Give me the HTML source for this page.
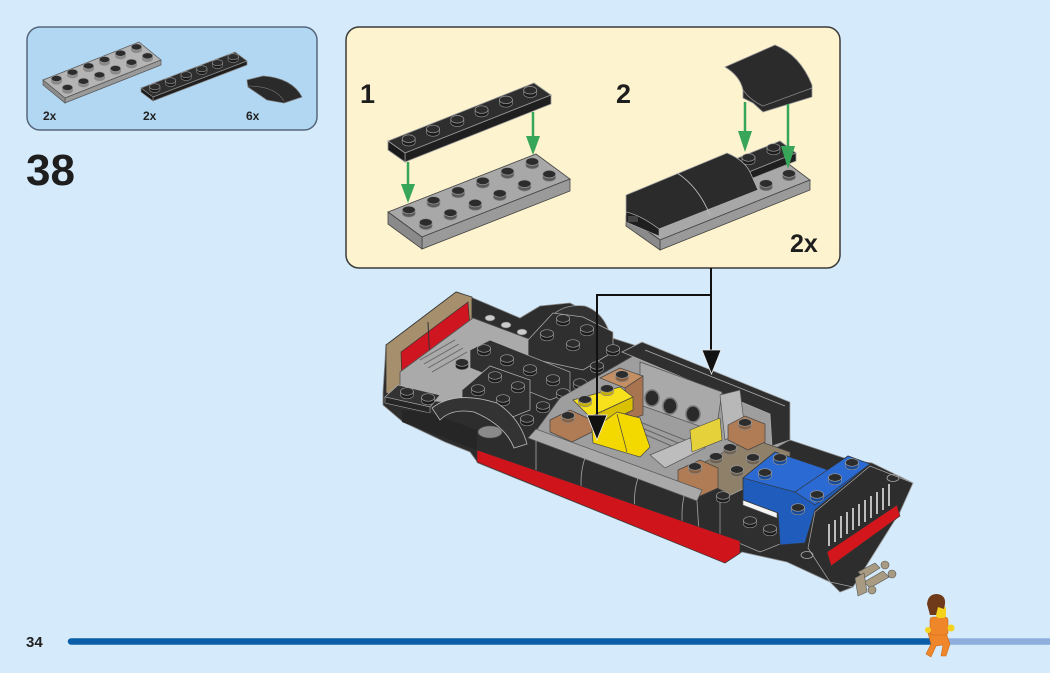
<!DOCTYPE html>
<html><head><meta charset="utf-8">
<style>
html,body{margin:0;padding:0;background:#d5ebfb;}
body{width:1050px;height:673px;overflow:hidden;position:relative;font-family:"Liberation Sans",sans-serif;}
svg{position:absolute;left:0;top:0;}
</style></head><body>
<svg width="1050" height="673" viewBox="0 0 1050 673" xmlns="http://www.w3.org/2000/svg">
<defs>
<g id="s"><path d="M-6.5,-3.5V0A6.5,3.8 0 0 0 6.5,0V-3.5Z" fill="currentColor" stroke="#8a8a8a" stroke-width=".7"/><ellipse cy="-3.5" rx="6.5" ry="3.8" fill="#2c2c2c" stroke="#9a9a9a" stroke-width=".7"/></g>
</defs>

<!-- Parts box -->
<rect x="27" y="27" width="290" height="103" rx="13" fill="#b2d7f2" stroke="#56677a" stroke-width="1.5"/>
<!-- gray 2x6 -->
<polygon points="43,80 139,42 161,60 65,98" fill="#b4b4b4" stroke="#555" stroke-width=".7"/>
<polygon points="65,98 161,60 161,65 65,103" fill="#9a9a9a" stroke="#555" stroke-width=".7"/>
<polygon points="43,80 65,98 65,103 43,85" fill="#8c8c8c" stroke="#555" stroke-width=".7"/>
<g color="#8a8a8a">
<use href="#s" transform="translate(56.5,81.3) scale(.8)"/><use href="#s" transform="translate(72.5,75) scale(.8)"/><use href="#s" transform="translate(88.5,68.7) scale(.8)"/><use href="#s" transform="translate(104.5,62.3) scale(.8)"/><use href="#s" transform="translate(120.5,56) scale(.8)"/><use href="#s" transform="translate(136.5,49.7) scale(.8)"/>
<use href="#s" transform="translate(67.5,90.3) scale(.8)"/><use href="#s" transform="translate(83.5,84) scale(.8)"/><use href="#s" transform="translate(99.5,77.7) scale(.8)"/><use href="#s" transform="translate(115.5,71.3) scale(.8)"/><use href="#s" transform="translate(131.5,65) scale(.8)"/><use href="#s" transform="translate(147.5,58.7) scale(.8)"/>
</g>
<!-- black 1x6 -->
<polygon points="141,88 235,52 247,61 153,97" fill="#2e2e2e" stroke="#888" stroke-width=".7"/>
<polygon points="153,97 247,61 247,65 153,101" fill="#1f1f1f" stroke="#888" stroke-width=".7"/>
<polygon points="141,88 153,97 153,101 141,92" fill="#1a1a1a" stroke="#888" stroke-width=".7"/>
<g color="#1c1c1c">
<use href="#s" transform="translate(154.8,89.5) scale(.8)"/><use href="#s" transform="translate(170.5,83.5) scale(.8)"/><use href="#s" transform="translate(186.2,77.5) scale(.8)"/><use href="#s" transform="translate(201.8,71.5) scale(.8)"/><use href="#s" transform="translate(217.5,65.5) scale(.8)"/><use href="#s" transform="translate(233.2,59.5) scale(.8)"/>
</g>
<!-- curved slope small -->
<path d="M247,80 L263,76 Q292,78 302,97 L284,103 L267,100 L248,87 Z" fill="#2a2a2a" stroke="#777" stroke-width=".7"/>
<path d="M248,86 Q275,86 284,101" fill="none" stroke="#777" stroke-width=".6"/>
<g font-family="'Liberation Sans',sans-serif" font-weight="bold" font-size="12" fill="#222">
<text x="43" y="120">2x</text><text x="143" y="120">2x</text><text x="246" y="120">6x</text>
</g>

<text x="26" y="185" font-family="'Liberation Sans',sans-serif" font-weight="bold" font-size="44" fill="#1e1e1e">38</text>

<!-- Step box -->
<rect x="346" y="27" width="494" height="241" rx="13" fill="#fdf3cf" stroke="#3a3a3a" stroke-width="1.5"/>
<g font-family="'Liberation Sans',sans-serif" font-weight="bold" fill="#1e1e1e">
<text x="360" y="103" font-size="27">1</text>
<text x="616" y="103" font-size="27">2</text>
<text x="790" y="252" font-size="25">2x</text>
</g>

<!-- Step1: gray 2x6 -->
<polygon points="388,212 536,154 570,179 422,237" fill="#a8a8a8" stroke="#444" stroke-width=".8"/>
<polygon points="422,237 570,179 570,191 422,249" fill="#9a9a9a" stroke="#444" stroke-width=".8"/>
<polygon points="388,212 422,237 422,249 388,224" fill="#8a8a8a" stroke="#444" stroke-width=".8"/>
<g color="#5a5a5a">
<use href="#s" x="408.8" y="213.4"/><use href="#s" x="433.5" y="203.8"/><use href="#s" x="458.2" y="194.1"/><use href="#s" x="482.8" y="184.4"/><use href="#s" x="507.5" y="174.8"/><use href="#s" x="532.2" y="165.1"/>
<use href="#s" x="425.8" y="225.9"/><use href="#s" x="450.5" y="216.3"/><use href="#s" x="475.2" y="206.6"/><use href="#s" x="499.8" y="196.9"/><use href="#s" x="524.5" y="187.3"/><use href="#s" x="549.2" y="177.6"/>
</g>
<!-- Step1: black 1x6 -->
<polygon points="388,141 534,83 551,95 405,153" fill="#2e2e2e" stroke="#999" stroke-width=".8"/>
<polygon points="405,153 551,95 551,104 405,162" fill="#1f1f1f" stroke="#999" stroke-width=".8"/>
<polygon points="388,141 405,153 405,162 388,150" fill="#1a1a1a" stroke="#999" stroke-width=".8"/>
<g color="#1c1c1c">
<use href="#s" x="408.7" y="142.2"/><use href="#s" x="433" y="132.5"/><use href="#s" x="457.3" y="122.8"/><use href="#s" x="481.6" y="113.1"/><use href="#s" x="505.9" y="103.4"/><use href="#s" x="530.2" y="93.7"/>
</g>
<!-- green arrows step1 -->
<g stroke="#37a659" stroke-width="2.5" fill="#37a659">
<line x1="408" y1="162" x2="408" y2="186"/><polygon points="401,184 415,184 408,203" stroke="none"/>
<line x1="533" y1="112" x2="533" y2="138"/><polygon points="526,136 540,136 533,155" stroke="none"/>
</g>

<!-- Step2 assembly -->
<polygon points="628,216 778,156 810,180 660,240" fill="#a8a8a8" stroke="#444" stroke-width=".8"/>
<polygon points="660,240 810,180 810,190 660,250" fill="#9a9a9a" stroke="#444" stroke-width=".8"/>
<polygon points="626,216 660,240 660,250 626,226" fill="#8a8a8a" stroke="#444" stroke-width=".8"/>
<polygon points="728,162 780,141 796,153 744,174" fill="#2e2e2e" stroke="#999" stroke-width=".8"/>
<polygon points="744,174 796,153 796,161 748,180" fill="#1f1f1f" stroke="#999" stroke-width=".8"/>
<g color="#1c1c1c"><use href="#s" x="748.5" y="161"/><use href="#s" x="773.5" y="151"/></g>
<g color="#5a5a5a"><use href="#s" x="766" y="187"/><use href="#s" x="789" y="177"/></g>
<path d="M626,195 L727,153 Q744,160 750,172 L758,190 L659,229 Q640,215 626,212 Z" fill="#2b2b2b" stroke="#aaa" stroke-width=".8"/>
<path d="M626,212 Q640,215 659,229 L659,236 L626,222 Z" fill="#1e1e1e" stroke="#aaa" stroke-width=".6"/>
<path d="M677,173 Q698,186 710,215" fill="none" stroke="#bbb" stroke-width=".9"/>
<rect x="628" y="216" width="10" height="6" fill="#444"/>
<!-- floating slope -->
<path d="M725,67 L775,45 Q800,55 812,85 L812,97 L763,112 L753,103 L743,98 L743,90 Q740,76 725,67 Z" fill="#2b2b2b" stroke="#999" stroke-width=".8"/>
<path d="M743,90 Q750,100 763,106 L812,88" fill="none" stroke="#888" stroke-width=".7"/>
<g stroke="#37a659" stroke-width="2.5" fill="#37a659">
<line x1="745" y1="102" x2="745" y2="133"/><polygon points="738,131 752,131 745,152" stroke="none"/>
<line x1="788" y1="104" x2="788" y2="148"/><polygon points="781,146 795,146 788,169" stroke="none"/>
</g>

<!-- CAR -->
<polygon points="383,392 386,345 457,292 473,298 520,318 540,306 570,303 600,318 612,338 640,347 788,405 790,440 850,460 872,463 913,483 900,512 853,587 840,592 830,582 787,562 742,552 725,563 478,463 470,452 445,442 403,422 383,405" fill="#2d2d2d" stroke="#888" stroke-width=".8"/>
<path d="M540,345 Q546,302 585,306 Q608,314 612,345 Z" fill="#333" stroke="#999" stroke-width=".8"/>
<polygon points="386,345 456,292 472,297 472,330 400,390 400,397 386,393" fill="#a58f6c" stroke="#333" stroke-width=".8"/>
<polygon points="401,352 468,302 470,328 402,385" fill="#cf1520" stroke="#333" stroke-width=".7"/>
<line x1="428" y1="322" x2="430" y2="363" stroke="#333" stroke-width="1"/>
<polygon points="400,372 473,318 545,345 545,378 470,405 400,398" fill="#aaaaaa" stroke="#555" stroke-width=".8"/>
<g stroke="#666" stroke-width="1"><line x1="420" y1="360" x2="455" y2="340"/><line x1="424" y1="364" x2="459" y2="344"/><line x1="428" y1="368" x2="463" y2="348"/><line x1="432" y1="372" x2="467" y2="352"/></g>
<g fill="#ccc" stroke="#666" stroke-width=".6"><ellipse cx="490" cy="318" rx="5" ry="3"/><ellipse cx="506" cy="325" rx="5" ry="3"/><ellipse cx="522" cy="332" rx="5" ry="3"/></g>
<polygon points="528,340 553,313 583,317 613,332 613,352 583,370 528,358" fill="#2f2f2f" stroke="#aaa" stroke-width=".8"/>
<polygon points="470,350 490,340 570,372 570,392 550,400 470,368" fill="#303030" stroke="#aaa" stroke-width=".7"/>
<polygon points="462,390 490,366 530,380 530,410 505,420 462,405" fill="#2f2f2f" stroke="#aaa" stroke-width=".8"/>
<g color="#1c1c1c">
<use href="#s" x="462" y="366"/><use href="#s" x="484" y="352"/><use href="#s" x="507" y="362"/><use href="#s" x="530" y="372"/><use href="#s" x="553" y="382"/>
<use href="#s" x="563" y="322"/><use href="#s" x="587" y="332"/><use href="#s" x="547" y="337"/><use href="#s" x="573" y="347"/><use href="#s" x="613" y="352"/><use href="#s" x="597" y="369"/>
<use href="#s" x="495" y="379"/><use href="#s" x="518" y="389"/><use href="#s" x="478" y="392"/><use href="#s" x="503" y="402"/>
<use href="#s" x="580" y="386"/><use href="#s" x="563" y="396"/><use href="#s" x="543" y="409"/><use href="#s" x="527" y="422"/>
</g>
<polygon points="385,397 398,385 440,395 430,407" fill="#333" stroke="#aaa" stroke-width=".8"/>
<polygon points="385,397 430,407 430,413 385,403" fill="#262626" stroke="#aaa" stroke-width=".6"/>
<g color="#1c1c1c"><use href="#s" x="407" y="395"/><use href="#s" x="428" y="401"/></g>
<polygon points="402,410 430,413 477,430 477,450 402,422" fill="#262626"/>
<path d="M432,408 Q455,390 497,403 Q520,418 527,444 L514,448 Q505,425 474,412 Q452,408 440,420 Z" fill="#333" stroke="#bbb" stroke-width=".8"/>
<ellipse cx="490" cy="432" rx="12" ry="6" fill="#8a8a8a" stroke="#555" stroke-width=".6"/>
<polygon points="560,398 640,352 788,408 790,440 700,492 535,432" fill="#9e9e9e" stroke="#555" stroke-width=".7"/>
<polygon points="622,352 642,342 790,402 790,440 772,446 770,414" fill="#2f2f2f" stroke="#aaa" stroke-width=".8"/>
<line x1="645" y1="350" x2="785" y2="406" stroke="#aaa" stroke-width=".8"/>
<polygon points="640,362 722,392 716,432 640,405" fill="#a9a9a9" stroke="#555" stroke-width=".8"/>
<g fill="#2a2a2a" stroke="#777" stroke-width="1.5"><ellipse cx="652" cy="398" rx="7" ry="8"/><ellipse cx="670" cy="406" rx="7" ry="8"/><ellipse cx="693" cy="414" rx="7" ry="8"/></g>
<polygon points="720,395 740,390 745,430 725,440" fill="#b8b8b8" stroke="#555" stroke-width=".7"/>
<g stroke="#666" stroke-width="1"><line x1="640" y1="422" x2="690" y2="442"/><line x1="642" y1="428" x2="690" y2="448"/><line x1="644" y1="434" x2="690" y2="454"/></g>
<polygon points="650,455 690,438 705,448 665,468" fill="#bdbdbd" stroke="#555" stroke-width=".7"/>
<polygon points="690,430 720,418 722,440 692,452" fill="#e5d23a" stroke="#444" stroke-width=".6"/>
<polygon points="600,378 620,368 643,376 625,388" fill="#c48f62" stroke="#444" stroke-width=".7"/>
<polygon points="625,388 643,376 643,415 628,420" fill="#a87450" stroke="#444" stroke-width=".7"/>
<g color="#8a5f3e"><use href="#s" x="622" y="378"/></g>
<polygon points="573,400 620,387 633,397 590,417" fill="#f7e11c" stroke="#444" stroke-width=".7"/>
<polygon points="590,417 633,397 633,410 595,428" fill="#d9c000" stroke="#444" stroke-width=".7"/>
<polygon points="592,430 617,412 640,418 650,447 640,457 593,443" fill="#f3d900" stroke="#444" stroke-width=".7"/>
<line x1="617" y1="414" x2="627" y2="452" stroke="#444" stroke-width=".7"/>
<g color="#c9b000"><use href="#s" x="607" y="392"/><use href="#s" x="585" y="403"/></g>
<polygon points="550,420 570,410 592,420 592,432 572,442 550,432" fill="#b07c55" stroke="#444" stroke-width=".7"/>
<polygon points="705,462 750,438 790,452 790,482 745,502 705,482" fill="#8f806a" stroke="#444" stroke-width=".7"/>
<polygon points="728,425 745,416 765,424 765,442 748,450 728,440" fill="#b07c55" stroke="#444" stroke-width=".7"/>
<polygon points="678,470 700,460 718,468 718,488 698,497 678,488" fill="#b07c55" stroke="#444" stroke-width=".7"/>
<g color="#8a5f3e"><use href="#s" x="568" y="419"/><use href="#s" x="745" y="426"/><use href="#s" x="695" y="470"/></g>
<g color="#6e6150"><use href="#s" x="730" y="451"/><use href="#s" x="753" y="461"/><use href="#s" x="737" y="473"/><use href="#s" x="716" y="460"/></g>
<polygon points="528,438 536,429 702,490 697,501" fill="#a9a9a9" stroke="#555" stroke-width=".7"/>
<g stroke="#9a9a9a" stroke-width=".9" fill="none">
<path d="M585,458 Q579,475 582,497"/><path d="M638,478 Q632,496 636,518"/><path d="M684,496 Q680,515 684,536"/>
<line x1="697" y1="501" x2="700" y2="548"/><line x1="536" y1="440" x2="536" y2="480"/>
</g>
<polygon points="720,500 745,488 790,505 790,540 760,552 720,535" fill="#2f2f2f" stroke="#aaa" stroke-width=".7"/>
<polygon points="743,492 777,506 777,518 743,505" fill="#f5f5f5" stroke="#666" stroke-width=".6"/>
<g color="#1c1c1c"><use href="#s" x="750" y="524"/><use href="#s" x="770" y="532"/><use href="#s" x="723" y="499"/></g>
<polygon points="743,478 775,452 828,470 848,456 870,464 815,510 805,543 780,545 778,513 743,500" fill="#1f5cbc" stroke="#333" stroke-width=".8"/>
<polygon points="743,478 775,452 828,470 795,492" fill="#2a6ad2" stroke="#333" stroke-width=".6"/>
<polygon points="795,492 848,456 870,464 815,505" fill="#2a6ad2" stroke="#333" stroke-width=".6"/>
<g color="#174a9a"><use href="#s" x="780" y="461"/><use href="#s" x="765" y="476"/><use href="#s" x="852" y="466"/><use href="#s" x="835" y="481"/><use href="#s" x="817" y="498"/><use href="#s" x="798" y="511"/></g>
<polygon points="815,512 870,466 913,483 900,512 853,587 830,582 808,548" fill="#2d2d2d" stroke="#aaa" stroke-width=".7"/>
<g stroke="#bdbdbd" stroke-width="2">
<line x1="829" y1="524" x2="829" y2="546"/><line x1="835" y1="520" x2="835" y2="542"/><line x1="841" y1="516" x2="841" y2="538"/><line x1="847" y1="512" x2="847" y2="534"/><line x1="853" y1="508" x2="853" y2="530"/><line x1="859" y1="504" x2="859" y2="526"/><line x1="865" y1="500" x2="865" y2="522"/><line x1="871" y1="496" x2="871" y2="518"/><line x1="877" y1="492" x2="877" y2="514"/><line x1="883" y1="488" x2="883" y2="510"/><line x1="889" y1="484" x2="889" y2="506"/>
</g>
<polygon points="827,552 897,505 900,516 831,566" fill="#d3161c" stroke="#333" stroke-width=".6"/>
<ellipse cx="893" cy="478" rx="6" ry="3.5" fill="none" stroke="#aaa" stroke-width=".8"/>
<ellipse cx="807" cy="555" rx="6" ry="3.5" fill="none" stroke="#aaa" stroke-width=".8"/>
<g fill="#a99b82" stroke="#555" stroke-width=".6">
<path d="M858,572 L875,563 L880,568 L864,578 Z"/><path d="M864,582 L883,571 L889,577 L870,588 Z"/><path d="M855,578 L864,573 L867,592 L858,596 Z"/>
<circle cx="885" cy="565" r="4"/><circle cx="892" cy="574" r="4"/><circle cx="872" cy="590" r="4"/>
</g>
<polygon points="477,450 740,541 740,553 725,563 477,462" fill="#d0141c" stroke="#333" stroke-width=".6"/>

<!-- callout connectors -->
<g stroke="#111" stroke-width="2" fill="none"><path d="M711,268 V295 H597 V418"/><path d="M711,295 V352"/></g>
<polygon points="587,415 607,415 597,440" fill="#111" stroke="#eee" stroke-width=".8"/>
<polygon points="702,350 721,350 711.5,374" fill="#111" stroke="#eee" stroke-width=".8"/>

<!-- bottom bar -->
<line x1="71" y1="641.5" x2="935" y2="641.5" stroke="#0b5ea8" stroke-width="6.5" stroke-linecap="round"/>
<rect x="935" y="638.3" width="115" height="6.5" fill="#8eaede"/>
<text x="26" y="647" font-family="'Liberation Sans',sans-serif" font-weight="bold" font-size="15" fill="#222">34</text>

<!-- minifig -->
<g>
<path d="M928,633 L946,633 L950,644 L946,656 L941,656 L943,645 L936,646 L931,657 L926,654 L931,644 Z" fill="#f0862a" stroke="#c96a1a" stroke-width=".6"/>
<rect x="930" y="617" width="18" height="18" rx="3" fill="#f0862a" stroke="#c96a1a" stroke-width=".6"/>
<rect x="936" y="606" width="10" height="12" rx="3" fill="#f5d21b"/>
<path d="M927,604 Q928,594 937,594 Q946,595 945,604 L944,609 L938,607 L936,615 L930,615 Z" fill="#6e3a1a"/>
<circle cx="951" cy="628" r="3.5" fill="#f5d21b"/>
<circle cx="928" cy="630" r="3" fill="#f5d21b"/>
</g>
</svg>
</body></html>
